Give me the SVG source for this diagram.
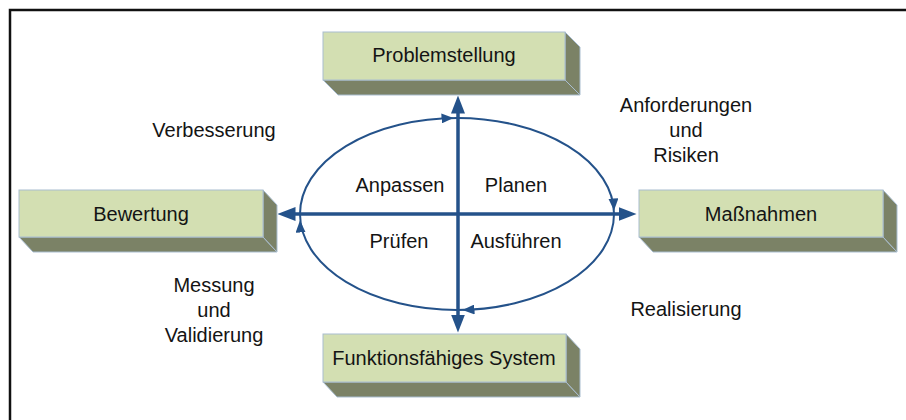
<svg xmlns="http://www.w3.org/2000/svg" width="906" height="420" viewBox="0 0 906 420">
<defs>
<style>
.front{fill:#d3dfb2;stroke:#a9bdd0;stroke-width:1}
.side{fill:#7b8266;stroke:#a9bdd0;stroke-width:1}
.t{font-family:"Liberation Sans",Arial,sans-serif;font-size:20px;fill:#141414;text-anchor:middle}
.axis{stroke:#24528a;stroke-width:3.5;fill:none}
.ring{stroke:#24528a;stroke-width:2;fill:none}
</style>
<marker id="big" viewBox="0 0 18 14" refX="0.5" refY="7" markerWidth="18" markerHeight="14" markerUnits="userSpaceOnUse" orient="auto-start-reverse">
<path d="M0,0 L18,7 L0,14 Z" fill="#24528a"/>
</marker>
<marker id="small" viewBox="0 0 12 10" refX="11.5" refY="5" markerWidth="12" markerHeight="10" markerUnits="userSpaceOnUse" orient="auto">
<path d="M0,0 L12,5 L0,10 Z" fill="#24528a"/>
</marker>
</defs>
<rect x="0" y="0" width="906" height="420" fill="#ffffff"/>
<rect x="10" y="10" width="930" height="440" fill="none" stroke="#111" stroke-width="2.5"/>

<g id="problemstellung">
<polygon class="side" points="323,80 565,80 580,95 338,95"/>
<polygon class="side" points="565,32 580,47 580,95 565,80"/>
<rect class="front" x="323" y="32" width="242" height="48"/>
<text class="t" x="444" y="62">Problemstellung</text>
</g>

<g id="bewertung">
<polygon class="side" points="19,237 263,237 277,252 33,252"/>
<polygon class="side" points="263,190 277,205 277,252 263,237"/>
<rect class="front" x="19" y="190" width="244" height="47"/>
<text class="t" x="141" y="221">Bewertung</text>
</g>

<g id="massnahmen">
<polygon class="side" points="639,237 883,237 897,252 653,252"/>
<polygon class="side" points="883,190 897,205 897,252 883,237"/>
<rect class="front" x="639" y="190" width="244" height="47"/>
<text class="t" x="761" y="221">Maßnahmen</text>
</g>

<g id="system">
<polygon class="side" points="323,382 566,382 580,397 337,397"/>
<polygon class="side" points="566,334 580,349 580,397 566,382"/>
<rect class="front" x="323" y="334" width="243" height="48"/>
<text class="t" x="444" y="365">Funktionsfähiges System</text>
</g>

<g id="connectors">
<ellipse class="ring" cx="457" cy="214" rx="157" ry="96"/>
<path d="M443,118.4 L453,118" stroke="none" fill="none" marker-end="url(#small)"/>
<path d="M613.4,198 L614,210" stroke="none" fill="none" marker-end="url(#small)"/>
<path d="M474,309.5 L463,310" stroke="none" fill="none" marker-end="url(#small)"/>
<path d="M300.6,233 L300,221" stroke="none" fill="none" marker-end="url(#small)"/>
<line class="axis" x1="458" y1="113" x2="458" y2="315" marker-start="url(#big)" marker-end="url(#big)"/>
<line class="axis" x1="295" y1="214" x2="619" y2="214" marker-start="url(#big)" marker-end="url(#big)"/>
</g>

<g id="labels">
<text class="t" x="400" y="192">Anpassen</text>
<text class="t" x="516" y="192">Planen</text>
<text class="t" x="399" y="248">Prüfen</text>
<text class="t" x="516" y="248">Ausführen</text>
<text class="t" x="214" y="137">Verbesserung</text>
<text class="t" x="686" y="112">Anforderungen</text>
<text class="t" x="686" y="137">und</text>
<text class="t" x="686" y="162">Risiken</text>
<text class="t" x="214" y="292">Messung</text>
<text class="t" x="214" y="317">und</text>
<text class="t" x="214" y="342">Validierung</text>
<text class="t" x="686" y="316">Realisierung</text>
</g>
</svg>
